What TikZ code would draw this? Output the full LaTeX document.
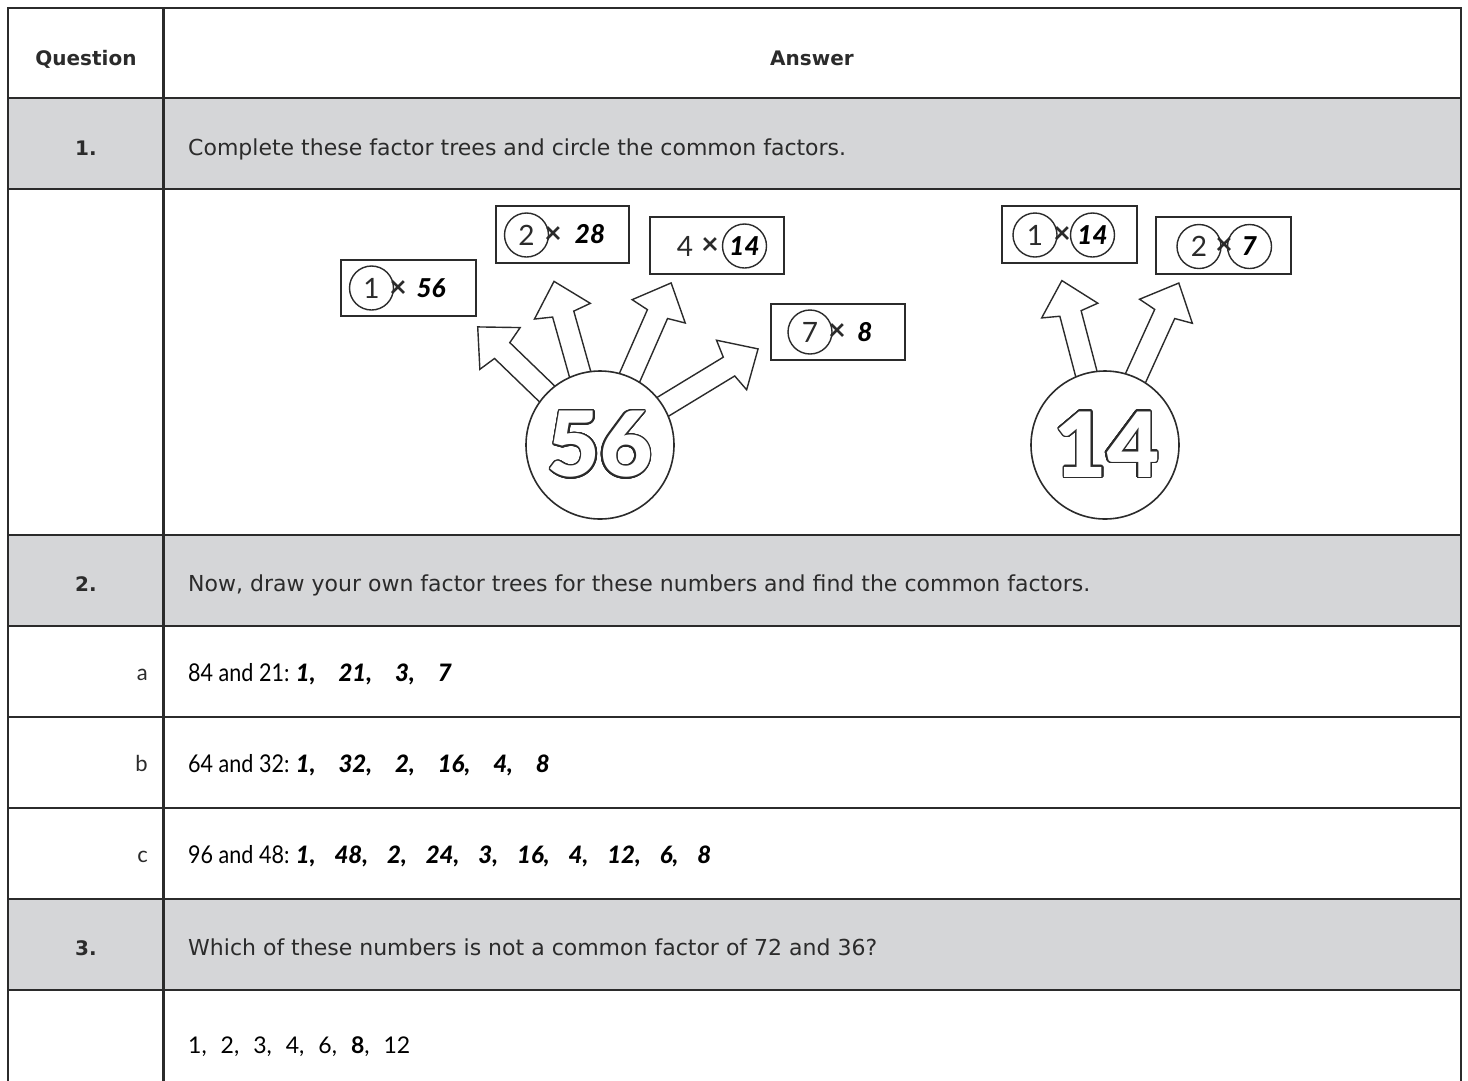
\documentclass[tikz,border=0pt]{standalone}
\usepackage{fontspec}
\usepackage[copies]{contour}
\setmainfont{DejaVu Sans}
\newfontfamily\qfont{DejaVu Sans}
\newfontfamily\latofont{Lato}
\newfontfamily\condfont[FakeStretch=0.88]{Lato}
\newfontfamily\latoblack{Lato Black}
\definecolor{rowgray}{HTML}{D5D6D8}
\definecolor{ink}{HTML}{2B2B2B}
\contourlength{1.4pt}
\contournumber{32}
\newcommand\hc{,\hspace{19pt}}
\newcommand\hcw{,\hspace{23pt}}
\newcommand\rc{,\hspace{14pt}}
\newcommand\fatarrow[4]{%
  \begin{scope}[shift={(#1,#2)}, rotate=#3]
    \draw[arrowshape] (45,-11) -- ({#4-34},-11) -- ({#4-31},-29) -- (#4,0)
      -- ({#4-31},29) -- ({#4-34},11) -- (45,11) -- cycle;
  \end{scope}}
\tikzset{
  x=1pt, y=-1pt,
  gridline/.style={line width=2.5pt, draw=ink, line cap=rect},
  hdr/.style={font=\qfont\bfseries\fontsize{20}{24}\selectfont, text=ink, inner sep=0, anchor=base},
  qtext/.style={font=\qfont\fontsize{22}{26}\selectfont, text=ink, anchor=base west, inner sep=0},
  lbl/.style={font=\latofont\fontsize{22}{26}\selectfont, text=ink, anchor=base east, inner sep=0},
  anstext/.style={font=\condfont\fontsize{24.5}{28}\selectfont, text=black, anchor=base west, inner sep=0},
  ans3/.style={font=\latofont\fontsize{23}{27}\selectfont, text=black, anchor=base west, inner sep=0},
  hand/.style={font=\latoblack\itshape\fontsize{24}{28}\selectfont, text=black, anchor=base west, inner sep=0},
  factbox/.style={draw=ink, line width=2pt, fill=white},
  ring/.style={draw=ink, line width=1.4pt, circle, minimum size=44pt, inner sep=0, font=\latofont\fontsize{28}{32}\selectfont, text=ink},
  ringhand/.style={ring, font=\latoblack\itshape\fontsize{26}{30}\selectfont, text=black},
  digit/.style={font=\latofont\fontsize{28}{32}\selectfont, text=ink, inner sep=0},
  handdigit/.style={font=\latoblack\itshape\fontsize{26}{30}\selectfont, text=black, inner sep=0},
  times/.style={font=\latofont\bfseries\fontsize{30}{32}\selectfont, text=ink, inner sep=0},
  arrowshape/.style={draw=ink, line width=1.4pt, fill=white, line join=miter},
  bigball/.style={draw=ink, line width=1.6pt, fill=white, circle, minimum size=148pt, inner sep=0},
  bignum/.style={font=\latoblack\fontsize{90}{92}\selectfont, inner sep=0},
}
\begin{document}
\begin{tikzpicture}
\useasboundingbox (0,0) rectangle (1468,1080);
% shaded rows
\fill[rowgray] (8,98) rectangle (1461,189);
\fill[rowgray] (8,535) rectangle (1461,626);
\fill[rowgray] (8,899) rectangle (1461,990);
% grid
\foreach \yy in {8,98,189,535,626,717,808,899,990} \draw[gridline] (8,\yy) -- (1461,\yy);
\foreach \xx in {8,163.5,1461} \draw[gridline] (\xx,8) -- (\xx,1080);
% header
\node[hdr] (hq) at (86,65) {Question};
\node[hdr] (ha) at (812,65) {Answer};
% question rows
\node[hdr] (q1) at (86,155) {1.};
\node[qtext] (q1t) at (188,155) {Complete these factor trees and circle the common factors.};
\node[hdr] (q2) at (86,591) {2.};
\node[qtext] (q2t) at (188,591) {Now, draw your own factor trees for these numbers and find the common factors.};
\node[hdr] (q3) at (86,955) {3.};
\node[qtext] (q3t) at (188,955) {Which of these numbers is not a common factor of 72 and 36?};
% answers 2a-2c
\node[lbl] (la) at (148,680) {a};
\node[anstext] (aa) at (188,681) {84 and 21:};
\node[hand] (ah) at ([xshift=6pt]aa.base east) {1\hcw 21\hcw 3\hcw 7};
\node[lbl] (lb) at (148,771) {b};
\node[anstext] (ba) at (188,772) {64 and 32:};
\node[hand] (bh) at ([xshift=6pt]ba.base east) {1\hcw 32\hcw 2\hcw 16\hcw 4\hcw 8};
\node[lbl] (lc) at (148,862) {c};
\node[anstext] (ca) at (188,863) {96 and 48:};
\node[hand] (ch) at ([xshift=6pt]ca.base east) {1\hc 48\hc 2\hc 24\hc 3\hc 16\hc 4\hc 12\hc 6\hc 8};
% answer 3
\node[ans3] (a3) at (188,1053) {1\rc 2\rc 3\rc 4\rc 6\rc {\bfseries 8}\rc 12};
% ---------- factor tree 56 ----------
\fatarrow{600}{445}{136}{170}
\fatarrow{600}{445}{105.7}{170}
\fatarrow{600}{445}{66.3}{177}
\fatarrow{600}{445}{31.3}{185}
\node[bigball] (b56) at (600,445) {};
\node[bignum] (n56) at (600,445) {\contour{ink}{\textcolor{white}{56}}};
% boxes
\draw[factbox] (341,260) rectangle (476,316);
\node[ring] (r1a) at (371.5,288) {1};
\node[times] (x1) at (398,289) {×};
\node[handdigit] (h56) at (431,288) {56};
\draw[factbox] (496,206) rectangle (629,263);
\node[ring] (r2a) at (526.5,235) {2};
\node[times] (x2) at (553,235) {×};
\node[handdigit] (h28) at (590,234) {28};
\draw[factbox] (650,217) rectangle (784,274);
\node[digit] (d4) at (685,246) {4};
\node[times] (x3) at (710,246) {×};
\node[ringhand] (r14a) at (744.5,246) {14};
\draw[factbox] (771,304) rectangle (905,360);
\node[ring] (r7a) at (810,332) {7};
\node[times] (x4) at (837,332) {×};
\node[handdigit] (h8) at (865,332) {8};
% ---------- factor tree 14 ----------
\fatarrow{1105}{445}{104.7}{170}
\fatarrow{1105}{445}{65.5}{178}
\node[bigball] (b14) at (1105,445) {};
\node[bignum] (n14) at (1107,445) {\contour{ink}{\textcolor{white}{14}}};
\draw[factbox] (1002,206) rectangle (1137,263);
\node[ring] (r1b) at (1035,235) {1};
\node[times] (x5) at (1062,235) {×};
\node[ringhand] (r14b) at (1092.5,235) {14};
\draw[factbox] (1156,217) rectangle (1291,274);
\node[ring] (r2b) at (1199,246.5) {2};
\node[times] (x6) at (1224,246.5) {×};
\node[ringhand] (r7b) at (1249.5,246.5) {7};
\end{tikzpicture}
\end{document}
